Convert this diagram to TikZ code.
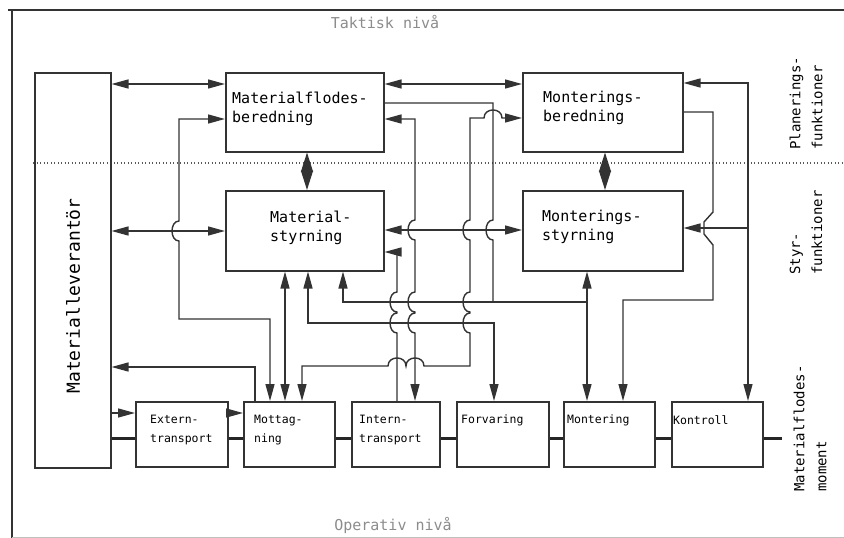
\documentclass[tikz,border=0pt]{standalone}
\usepackage{fontspec}
\newfontfamily\plotfont{DejaVu Sans Mono}
\usetikzlibrary{arrows.meta}
\begin{document}
\begin{tikzpicture}[x=1pt,y=-1pt,
  >={Triangle[length=17pt,width=9pt]},
  box/.style={draw=black!80, line width=1.5pt, anchor=north west, inner sep=0pt},
  wire/.style={draw=black!80, line width=1.4pt},
  flow/.style={draw=black!85, line width=3pt},
  dia/.style={draw=black!80, line width=1.4pt,
    {Triangle[length=19.5pt,width=12pt]}-{Triangle[length=19.5pt,width=12pt]}},
  lbl/.style={font=\fontsize{15}{19}\plotfont, align=left, anchor=west, inner sep=0pt},
  small/.style={font=\fontsize{11.5}{19}\plotfont, align=left, anchor=west, inner sep=0pt},
  side/.style={font=\fontsize{14}{22}\plotfont, align=left, rotate=90, anchor=west, inner sep=0pt},
  level/.style={font=\fontsize{15}{18}\plotfont, text=black!45},
  % left-bulging jump of a downward vertical line over a horizontal one at (#1,#2)
  vb/.style 2 args={insert path={-- ({#1},{#2-10}) .. controls ({#1-9.3},{#2-10}) and ({#1-9.3},{#2+10}) .. ({#1},{#2+10})}},
  % upward jump of a leftward horizontal line over a vertical one at (#1,#2)
  hb/.style 2 args={insert path={-- ({#1+9},{#2}) .. controls ({#1+9},{#2-10.7}) and ({#1-9},{#2-10.7}) .. ({#1-9},{#2})}},
]
\useasboundingbox (0,0) rectangle (844,538);

% frame
\draw[line width=2.5pt, black!80] (8,10) -- (844,10);
\draw[line width=1.8pt, black!80] (12,10) -- (12,538);
\draw[line width=0.8pt, black!25] (12,537) -- (844,537);

% boundary between planning and control functions
\draw[black!65, line width=1.5pt, dash pattern=on 1.4pt off 2.1pt] (33,163) -- (844,163);

\node[level] (tak) at (385,22) {Taktisk nivå};
\node[level] (ope) at (393,525) {Operativ nivå};

% blocks
\node[box, minimum width=76pt, minimum height=395pt] (lev) at (34,72) {};
\node[box, minimum width=158pt, minimum height=79pt] (mfb) at (225,72) {};
\node[box, minimum width=158pt, minimum height=80pt] (mst) at (225,190) {};
\node[box, minimum width=160pt, minimum height=79pt] (mob) at (522,72) {};
\node[box, minimum width=160pt, minimum height=80pt] (mos) at (522,190) {};

\node[box, minimum width=92pt, minimum height=65pt] (ext) at (135,401) {};
\node[box, minimum width=91pt, minimum height=65pt] (mot) at (243,401) {};
\node[box, minimum width=88pt, minimum height=65pt] (int) at (351,401) {};
\node[box, minimum width=92pt, minimum height=65pt] (forv) at (456,401) {};
\node[box, minimum width=91pt, minimum height=65pt] (mon) at (563,401) {};
\node[box, minimum width=91pt, minimum height=65pt] (kon) at (671,401) {};

% block texts
\node[rotate=90, font=\fontsize{18}{20}\plotfont] (levtxt) at (73,296) {Materialleverantör};
\node[lbl] (mfbtxt) at (232,109) {Materialflodes-\\beredning};
\node[lbl] (msttxt) at (270,228) {Material-\\styrning};
\node[lbl] (mobtxt) at (543,108) {Monterings-\\beredning};
\node[lbl] (mostxt) at (542,227) {Monterings-\\styrning};

\node[small] (exttxt) at (150,430) {Extern-\\transport};
\node[small] (mottxt) at (254,430) {Mottag-\\ning};
\node[small] (inttxt) at (359,430) {Intern-\\transport};
\node[small] (forvtxt) at (461,420) {Forvaring};
\node[small] (montxt) at (567,420) {Montering};
\node[small] (kontxt) at (673,420) {Kontroll};

% side labels
\node[side] (plan) at (806,150) {Planerings-\\funktioner};
\node[side] (styr) at (806,275) {Styr-\\funktioner};
\node[side] (mom) at (810,492) {Materialflodes-\\moment};

% junction points
\coordinate (jA) at (748,228);
\coordinate (jB) at (493,302);
\coordinate (jC) at (587,302);
\coordinate (fend) at (782,438);

% material flow chain
\draw[flow] (lev.east |- 0,438) -- (ext.west |- 0,438);
\draw[flow] (ext.east |- 0,438) -- (mot.west |- 0,438);
\draw[flow] (mot.east |- 0,438) -- (int.west |- 0,438);
\draw[flow] (int.east |- 0,438) -- (forv.west |- 0,438);
\draw[flow] (forv.east |- 0,438) -- (mon.west |- 0,438);
\draw[flow] (mon.east |- 0,438) -- (kon.west |- 0,438);
\draw[flow] (kon.east |- 0,438) -- (fend);

% vertical pairs
\draw[dia] (mfb.south -| 307,0) -- (mst.north -| 307,0);
\draw[dia] (mob.south -| 605,0) -- (mos.north -| 605,0);

% information links
\draw[wire, <->] (lev.east |- 0,84) -- (mfb.west |- 0,84);
\draw[wire, <->] (lev.east |- 0,231) -- (mst.west |- 0,231);
\draw[wire, <->] (mfb.east |- 0,84) -- (mob.west |- 0,84);
\draw[wire, <->] (mst.east |- 0,230) -- (mos.west |- 0,230);

\draw[wire, ->] (lev.east |- 0,413) -- (ext.west |- 0,413);
\draw[wire, ->] (ext.east |- 0,413) -- (mot.west |- 0,413);
\draw[wire, ->] (mot.north -| 255,0) -- (255,367) -- (lev.east |- 0,367);

\draw[wire, <->] (mfb.west |- 0,119) -- (179,119) [vb={179}{231}] -- (179,319)
  -- (270,319) -- (mot.north -| 270,0);
\draw[wire, <->] (mst.south -| 285,0) -- (mot.north -| 285,0);
\draw[wire, <->] (mob.west |- 0,118) [hb={493}{118}] -- (470,118)
  [vb={470}{230}] [vb={470}{302}] [vb={470}{323}] -- (470,366)
  [hb={415}{366}] [hb={397}{366}] -- (302,366) -- (mot.north -| 302,0);

\draw[wire, <->] (mfb.east |- 0,119) -- (415,119)
  [vb={415}{230}] [vb={415}{302}] [vb={415}{323}] -- (int.north -| 415,0);
\draw[wire, <-] (mst.east |- 0,252) -- (397,252)
  [vb={397}{302}] [vb={397}{323}] -- (int.north -| 397,0);
\draw[wire] (mfb.east |- 0,103) -- (493,103) [vb={493}{230}] -- (jB);

\draw[wire, <-] (mst.south -| 343,0) -- (343,302) -- (jC);
\draw[wire, <->] (mos.south -| 587,0) -- (mon.north -| 587,0);
\draw[wire, <->] (mst.south -| 308,0) -- (308,323) -- (494,323) -- (forv.north -| 494,0);

\draw[wire, <->] (mob.east |- 0,83) -- (748,83) -- (kon.north -| 748,0);
\draw[wire, ->] (jA) -- (mos.east |- jA);
\draw[wire, ->] (mob.east |- 0,112) -- (713,112) -- (713,212) -- (704,222) -- (704,234)
  -- (713,245) -- (713,300) -- (623,300) -- (mon.north -| 623,0);

\end{tikzpicture}
\end{document}
